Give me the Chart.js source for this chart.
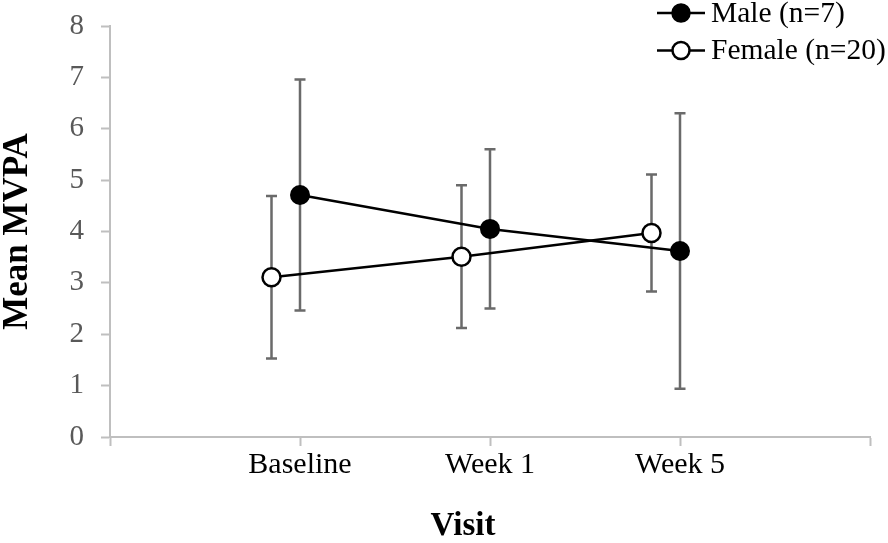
<!DOCTYPE html>
<html>
<head>
<meta charset="utf-8">
<script src="https://cdn.jsdelivr.net/npm/chart.js@4.4.1/dist/chart.umd.min.js"></script>
<style>
    html, body { margin: 0; padding: 0; background: #fff; }
    #wrap { width: 888px; height: 543px; position: relative; }
</style>
</head>
<body>
<div id="wrap"><canvas id="chart-mvpa"></canvas></div>
<script>
const visits = ["Baseline", "Week 1", "Week 5"];
const maleMean = [4.71, 4.05, 3.62];
const maleSD = [2.25, 1.55, 2.68];
const femaleMean = [3.11, 3.51, 3.97];
const femaleSD = [1.58, 1.39, 1.14];
const yTicks = [0, 1, 2, 3, 4, 5, 6, 7, 8];

const serif = '"Liberation Serif", "Times New Roman", serif';
const femaleShift = -0.15; // female markers sit a little left of the category

function toPoints(means, shift) {
    return means.map((v, i) => ({ x: i + 1 + shift, y: v }));
}

// vertical error bars (mean +/- sd), drawn under the lines and markers
const errorBars = {
    id: "errorBars",
    beforeDatasetsDraw(chart) {
        const ctx = chart.ctx;
        const y = chart.scales.y;
        ctx.save();
        ctx.strokeStyle = "#6a6a6a";
        ctx.lineWidth = 2.5;
        chart.data.datasets.forEach((ds, di) => {
            const meta = chart.getDatasetMeta(di);
            meta.data.forEach((pt, i) => {
                const top = y.getPixelForValue(ds.data[i].y + ds.sd[i]);
                const bot = y.getPixelForValue(ds.data[i].y - ds.sd[i]);
                ctx.beginPath();
                ctx.moveTo(pt.x, top);
                ctx.lineTo(pt.x, bot);
                ctx.moveTo(pt.x - 5.5, top);
                ctx.lineTo(pt.x + 5.5, top);
                ctx.moveTo(pt.x - 5.5, bot);
                ctx.lineTo(pt.x + 5.5, bot);
                ctx.stroke();
            });
        });
        ctx.restore();
    },
};

// legend in the top right corner + the x axis title
const extras = {
    id: "extras",
    afterDraw(chart) {
        const ctx = chart.ctx;
        ctx.save();
        chart.data.datasets.forEach((ds, i) => {
            const cy = 13 + i * 37.5;
            const x0 = chart.width - 231;
            ctx.strokeStyle = "#000";
            ctx.lineWidth = 2.5;
            ctx.beginPath();
            ctx.moveTo(x0, cy);
            ctx.lineTo(x0 + 48, cy);
            ctx.stroke();
            ctx.beginPath();
            ctx.arc(x0 + 24, cy, 8.5, 0, Math.PI * 2);
            ctx.fillStyle = ds.pointBackgroundColor;
            ctx.fill();
            ctx.stroke();
            ctx.fillStyle = "#000";
            ctx.font = "29.5px " + serif;
            ctx.textAlign = "left";
            ctx.textBaseline = "middle";
            ctx.fillText(ds.label, x0 + 54, cy + 1);
        });
        ctx.font = "bold 33px " + serif;
        ctx.textAlign = "center";
        ctx.textBaseline = "middle";
        ctx.fillStyle = "#000";
        ctx.fillText("Visit", chart.width / 2 + 19, 526);
        ctx.restore();
    },
};

new Chart(document.getElementById("chart-mvpa"), {
    type: "line",
    data: {
        datasets: [
            {
                label: "Male (n=7)",
                data: toPoints(maleMean, 0),
                sd: maleSD,
                borderColor: "#000",
                borderWidth: 2.5,
                pointRadius: 9,
                pointBorderWidth: 2,
                pointBackgroundColor: "#000",
                pointBorderColor: "#000",
                tension: 0,
            },
            {
                label: "Female (n=20)",
                data: toPoints(femaleMean, femaleShift),
                sd: femaleSD,
                borderColor: "#000",
                borderWidth: 2.5,
                pointRadius: 9,
                pointBorderWidth: 2.5,
                pointBackgroundColor: "#fff",
                pointBorderColor: "#000",
                tension: 0,
            },
        ],
    },
    options: {
        responsive: true,
        maintainAspectRatio: false,
        animation: false,
        layout: { padding: { top: 26, right: 18, left: 0, bottom: 0 } },
        plugins: {
            legend: { display: false },
            tooltip: { enabled: false },
        },
        scales: {
            x: {
                type: "linear",
                min: 0,
                max: 4,
                afterFit: (s) => { s.height = 106; },
                afterBuildTicks: (s) => { s.ticks = [0, 1, 2, 3, 4].map((v) => ({ value: v })); },
                ticks: {
                    callback: (v) => visits[v - 1] || "",
                    color: "#000",
                    font: { family: serif, size: 30 },
                    padding: 1,
                    maxRotation: 0,
                    autoSkip: false,
                },
                grid: { drawOnChartArea: false, tickLength: 9, tickColor: "#bfbfbf", tickWidth: 2 },
                border: { color: "#bfbfbf", width: 2 },
            },
            y: {
                min: 0,
                max: 8,
                afterFit: (s) => {
                    s.width = 110;
                    s.paddingTop = 0;
                    s.paddingBottom = 0;
                },
                afterBuildTicks: (s) => { s.ticks = yTicks.map((v) => ({ value: v })); },
                ticks: {
                    color: "#595959",
                    font: { family: serif, size: 29 },
                    padding: 17,
                },
                grid: { drawOnChartArea: false, tickLength: 9, tickColor: "#bfbfbf", tickWidth: 2 },
                border: { color: "#bfbfbf", width: 2 },
                title: {
                    display: true,
                    text: "Mean MVPA",
                    color: "#000",
                    font: { family: serif, size: 35, weight: "bold", lineHeight: 1 },
                    padding: 0,
                },
            },
        },
    },
    plugins: [errorBars, extras],
});
</script>
</body>
</html>
